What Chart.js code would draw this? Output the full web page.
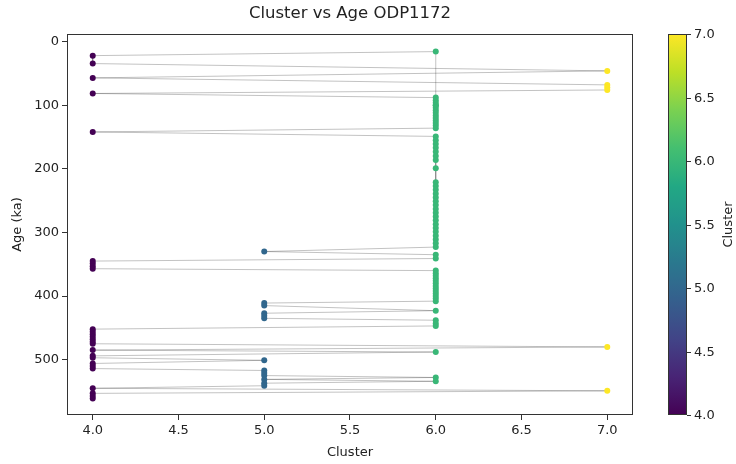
<!DOCTYPE html>
<html>
<head>
<meta charset="utf-8">
<script src="https://cdn.jsdelivr.net/npm/chart.js@4/dist/chart.umd.min.js"></script>
<style>
  html, body { margin: 0; padding: 0; background: #fff; }
  #wrap { width: 736px; height: 464px; }
</style>
</head>
<body>
<div id="wrap"><canvas id="clusterChart" width="736" height="464"></canvas></div>
<script>
// samples in core order: age (ka) and assigned cluster
const ages = [
  100, 15.7, 22, 34.5, 46, 57, 68, 72, 76, 81.5,
  88, 92, 96, 100, 104, 108, 112, 116, 120, 124, 128, 132, 136,
  142,
  149, 155, 161, 167, 173, 180, 186, 199,
  221, 227, 233, 239, 245, 251, 257, 263, 269, 275, 281, 287, 293, 299, 305, 311, 317, 323,
  330, 335, 341,
  345, 349, 353, 357,
  360, 364, 368, 372, 376, 380, 384, 388, 392, 396, 400, 404, 408,
  411, 415, 423, 427, 431, 435, 438, 443, 447,
  452, 456, 460, 464, 468, 472, 475,
  480, 485, 488, 494, 497, 501, 506, 510, 514,
  517, 521, 525, 528, 531, 534, 537, 541,
  545, 549, 553, 557, 561
];
const clusters = [
  6, 6, 4, 4, 7, 4, 7, 7, 7, 4,
  6, 6, 6, 6, 6, 6, 6, 6, 6, 6, 6, 6, 6,
  4,
  6, 6, 6, 6, 6, 6, 6, 6,
  6, 6, 6, 6, 6, 6, 6, 6, 6, 6, 6, 6, 6, 6, 6, 6, 6, 6,
  5, 6, 6,
  4, 4, 4, 4,
  6, 6, 6, 6, 6, 6, 6, 6, 6, 6, 6, 6, 6,
  5, 5, 6, 5, 5, 5, 6, 6, 6,
  4, 4, 4, 4, 4, 4, 4,
  7, 4, 6, 4, 4, 5, 4, 4, 4,
  5, 5, 5, 6, 5, 6, 5, 5,
  4, 7, 4, 4, 4
];
const xTicks = [4.0, 4.5, 5.0, 5.5, 6.0, 6.5, 7.0];
const yTicks = [0, 100, 200, 300, 400, 500];
const cbarTicks = [4.0, 4.5, 5.0, 5.5, 6.0, 6.5, 7.0];

// viridis colormap
const viridisStops = ['#440154', '#482475', '#414487', '#355f8d', '#2a788e', '#21918c',
                      '#22a884', '#44bf70', '#7ad151', '#bddf26', '#fde725'];
function hexToRgb(h) {
  return [parseInt(h.slice(1, 3), 16), parseInt(h.slice(3, 5), 16), parseInt(h.slice(5, 7), 16)];
}
function viridis(t) {
  t = Math.max(0, Math.min(1, t));
  const p = t * (viridisStops.length - 1);
  const i = Math.min(Math.floor(p), viridisStops.length - 2);
  const f = p - i;
  const a = hexToRgb(viridisStops[i]), b = hexToRgb(viridisStops[i + 1]);
  const c = a.map((v, k) => Math.round(v + (b[k] - v) * f));
  return 'rgb(' + c.join(',') + ')';
}
const cMin = 4, cMax = 7;

const points = ages.map((a, i) => ({ x: clusters[i], y: a }));
const pointColors = clusters.map(c => viridis((c - cMin) / (cMax - cMin)));

const font = { family: 'DejaVu Sans', size: 13 };
const textColor = '#222';

// frame round the plot area and the colorbar on the right
const extras = {
  id: 'extras',
  afterLayout(chart) {
    // centre the title over the plot area, like matplotlib
    if (chart.titleBlock) {
      chart.titleBlock.left = chart.chartArea.left;
      chart.titleBlock.right = chart.chartArea.right;
    }
  },
  afterDraw(chart) {
    const ctx = chart.ctx;
    const a = chart.chartArea;
    ctx.save();
    ctx.strokeStyle = '#333';
    ctx.lineWidth = 1;
    ctx.strokeRect(a.left + 0.5, a.top + 0.5, a.right - a.left - 1, a.bottom - a.top - 1);

    const bx = 668, bw = 19, top = a.top, bottom = a.bottom;
    const g = ctx.createLinearGradient(0, bottom, 0, top);
    for (let i = 0; i <= 20; i++) g.addColorStop(i / 20, viridis(i / 20));
    ctx.fillStyle = g;
    ctx.fillRect(bx, top, bw, bottom - top);
    ctx.strokeRect(bx + 0.5, top + 0.5, bw - 1, bottom - top - 1);

    ctx.fillStyle = textColor;
    ctx.font = font.size + 'px ' + font.family;
    ctx.textBaseline = 'middle';
    ctx.textAlign = 'left';
    cbarTicks.forEach(v => {
      const y = Math.round(bottom - (v - cMin) / (cMax - cMin) * (bottom - top)) + 0.5;
      ctx.beginPath();
      ctx.moveTo(bx + bw, y);
      ctx.lineTo(bx + bw + 4, y);
      ctx.stroke();
      ctx.fillText(v.toFixed(1), bx + bw + 7, y);
    });
    ctx.translate(729, (top + bottom) / 2);
    ctx.rotate(-Math.PI / 2);
    ctx.textAlign = 'center';
    ctx.fillText('Cluster', 0, 0);
    ctx.restore();
  }
};

new Chart(document.getElementById('clusterChart').getContext('2d'), {
  type: 'scatter',
  data: {
    datasets: [
      {
        label: 'samples',
        data: points,
        pointBackgroundColor: pointColors,
        pointBorderWidth: 0,
        pointRadius: 3,
        order: 1
      },
      {
        label: 'path',
        data: points,
        showLine: true,
        borderColor: 'rgba(0,0,0,0.24)',
        borderWidth: 1,
        pointRadius: 0,
        order: 2
      }
    ]
  },
  options: {
    responsive: false,
    animation: false,
    layout: { padding: { left: 0, right: 103, top: 0, bottom: 0 } },
    plugins: {
      legend: { display: false },
      tooltip: { enabled: false },
      title: {
        display: true,
        text: 'Cluster vs Age ODP1172',
        color: textColor,
        font: { family: 'DejaVu Sans', size: 16.5, weight: 'normal' },
        padding: { top: 4, bottom: 10.2 }
      }
    },
    scales: {
      x: {
        type: 'linear',
        min: 3.85,
        max: 7.15,
        afterBuildTicks: s => { s.ticks = xTicks.map(v => ({ value: v })); },
        afterFit: s => { s.height = 49; },
        ticks: { color: textColor, font: font, padding: 3, callback: v => v.toFixed(1) },
        grid: { drawOnChartArea: false, drawTicks: true, tickLength: 5, color: '#333' },
        border: { display: false },
        title: { display: true, text: 'Cluster', color: textColor, font: font, padding: { top: 0, bottom: 4 } }
      },
      y: {
        type: 'linear',
        reverse: true,
        min: -12,
        max: 587,
        afterBuildTicks: s => { s.ticks = yTicks.map(v => ({ value: v })); },
        afterFit: s => { s.width = 67; },
        ticks: { color: textColor, font: font, padding: 3 },
        grid: { drawOnChartArea: false, drawTicks: true, tickLength: 5, color: '#333' },
        border: { display: false },
        title: { display: true, text: 'Age (ka)', color: textColor, font: font, padding: { top: 10, bottom: 0 } }
      }
    }
  },
  plugins: [extras]
});
</script>
</body>
</html>
